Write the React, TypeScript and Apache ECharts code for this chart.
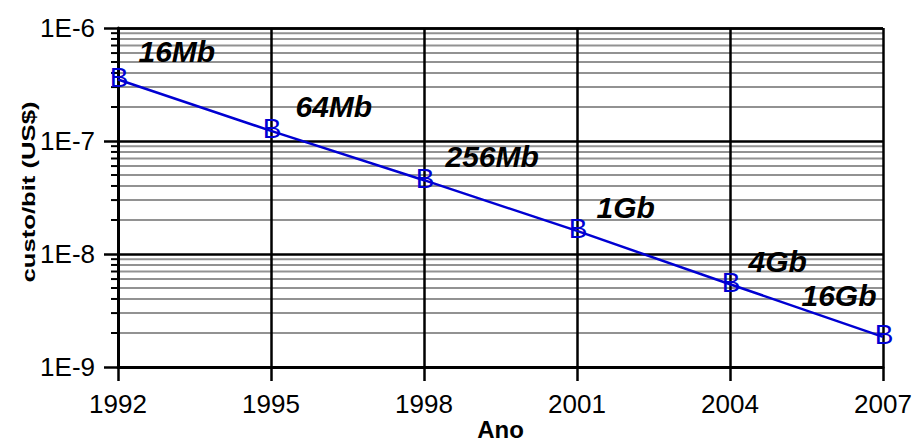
import React, { useEffect, useRef } from "react";
import * as echarts from "echarts";

// DRAM generations: cost per bit over the years
const years = [1992, 1995, 1998, 2001, 2004, 2007];
const costPerBit = [3.5e-7, 1.23e-7, 4.5e-8, 1.6e-8, 5.4e-9, 1.85e-9];
const chipSizes = ["16Mb", "64Mb", "256Mb", "1Gb", "4Gb", "16Gb"];

// axis range
const yearMin = 1992;
const yearMax = 2007;
const yearStep = 3;
const costMin = 1e-9;
const costMax = 1e-6;

// minor log gridlines (2..9 within each decade)
const minorValues = [
  2e-9, 3e-9, 4e-9, 5e-9, 6e-9, 7e-9, 8e-9, 9e-9,
  2e-8, 3e-8, 4e-8, 5e-8, 6e-8, 7e-8, 8e-8, 9e-8,
  2e-7, 3e-7, 4e-7, 5e-7, 6e-7, 7e-7, 8e-7, 9e-7,
];

const FONT = "Arial, 'Liberation Sans', Helvetica, sans-serif";
const BLUE = "#0000d2";
const GREY = "#929292";

// where each chip-size tag sits relative to its point
const tagPlacement: { position: string; offset: number[] }[] = [
  { position: "right", offset: [15, -28] },
  { position: "right", offset: [19, -24] },
  { position: "right", offset: [16, -24] },
  { position: "right", offset: [14, -23] },
  { position: "right", offset: [13, -23] },
  { position: "left", offset: [-1, -41] },
];

export default function App() {
  const ref = useRef<HTMLDivElement>(null);

  useEffect(() => {
    if (!ref.current) return;
    const chart = echarts.init(ref.current, null, { renderer: "svg" });

    const points = years.map((y, i) => [y, costPerBit[i]]);

    chart.setOption({
      animation: false,
      backgroundColor: "#ffffff",
      grid: {
        left: 118,
        right: 35,
        top: 28,
        bottom: 74,
        containLabel: false,
        outerBoundsMode: "none",
      },
      xAxis: {
        type: "value",
        min: yearMin,
        max: yearMax,
        interval: yearStep,
        name: "Ano",
        nameLocation: "middle",
        nameGap: 62,
        nameMoveOverlap: false,
        nameTextStyle: {
          fontFamily: FONT,
          fontSize: 24,
          fontWeight: "bold",
          color: "#000",
          verticalAlign: "middle",
          lineHeight: 20,
        },
        axisLine: { show: true, lineStyle: { color: "#000", width: 3 } },
        axisTick: { show: true, length: 14, lineStyle: { color: "#000", width: 2.5 } },
        axisLabel: {
          fontFamily: FONT,
          fontSize: 26,
          color: "#000",
          margin: 24,
          formatter: (v: number) => String(v),
        },
        splitLine: { show: true, lineStyle: { color: "#000", width: 2.5 } },
      },
      yAxis: {
        type: "log",
        logBase: 10,
        min: costMin,
        max: costMax,
        axisLine: { show: true, lineStyle: { color: "#000", width: 3 } },
        axisTick: { show: true, length: 14, lineStyle: { color: "#000", width: 2.5 } },
        axisLabel: {
          fontFamily: FONT,
          fontSize: 26,
          color: "#000",
          margin: 23,
          formatter: (v: number) => "1E" + Math.round(Math.log10(v)),
        },
        splitLine: { show: true, lineStyle: { color: "#000", width: 2.5 } },
        minorTick: { show: false },
        minorSplitLine: { show: false },
      },
      graphic: [
        {
          type: "text",
          x: 29,
          y: 192,
          rotation: Math.PI / 2,
          scaleX: 1.35,
          scaleY: 1,
          style: {
            text: "custo/bit (US$)",
            fontFamily: FONT,
            fontSize: 19,
            fontWeight: "bold",
            fill: "#000",
            align: "center",
            verticalAlign: "middle",
          },
        },
      ],
      series: [
        {
          // minor log gridlines plus their small outside ticks
          type: "custom",
          z: -1,
          silent: true,
          clip: false,
          data: minorValues.map((v) => [yearMin, v]),
          renderItem: (_params: any, api: any) => {
            const v = api.value(1);
            const a = api.coord([yearMin, v]);
            const b = api.coord([yearMax, v]);
            return {
              type: "group",
              children: [
                {
                  type: "line",
                  shape: { x1: a[0], y1: a[1], x2: b[0], y2: b[1] },
                  style: { stroke: GREY, lineWidth: 2 },
                },
                {
                  type: "line",
                  shape: { x1: a[0] - 7, y1: a[1], x2: a[0], y2: a[1] },
                  style: { stroke: "#000", lineWidth: 2 },
                },
              ],
            };
          },
        },
        {
          type: "line",
          data: points,
          symbol: "none",
          z: 3,
          lineStyle: { color: BLUE, width: 2.5 },
          silent: true,
        },
        {
          // "B" point markers
          type: "scatter",
          data: points,
          symbolSize: 1,
          z: 4,
          itemStyle: { color: "rgba(0,0,0,0)", opacity: 1 },
          silent: true,
          label: {
            show: true,
            formatter: "B",
            position: "inside",
            offset: [1, -2],
            color: BLUE,
            fontFamily: FONT,
            fontSize: 28,
            textBorderWidth: 0,
            textBorderColor: "transparent",
          },
        },
        {
          // chip-size tags
          type: "scatter",
          symbolSize: 1,
          z: 4,
          itemStyle: { color: "rgba(0,0,0,0)", opacity: 1 },
          silent: true,
          data: years.map((y, i) => ({
            value: [y, costPerBit[i]],
            name: chipSizes[i],
            label: {
              position: tagPlacement[i].position,
              offset: tagPlacement[i].offset,
            },
          })),
          label: {
            show: true,
            formatter: (p: any) => p.name,
            color: "#000",
            fontFamily: FONT,
            fontSize: 30,
            fontWeight: "bold",
            fontStyle: "italic",
          },
        },
      ],
    });

    return () => chart.dispose();
  }, []);

  return (
    <div
      ref={ref}
      style={{ position: "fixed", left: 0, top: 0, width: 918, height: 441, background: "#fff" }}
    />
  );
}
